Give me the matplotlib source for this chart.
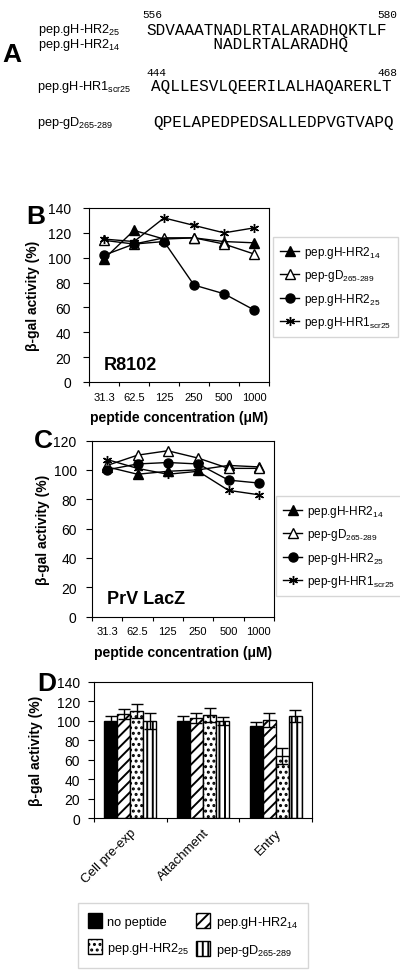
import numpy as np
import matplotlib
matplotlib.use("Agg")
import matplotlib.pyplot as plt

plt.rcParams['font.family'] = ['Liberation Sans', 'DejaVu Sans']
plt.rcParams['mathtext.default'] = 'regular'
plt.rcParams['hatch.linewidth'] = 1.4

# =====================================================
# DATA
# =====================================================

conc = ['31.3', '62.5', '125', '250', '500', '1000']

b_hr2_14 = [99, 122, 115, 116, 113, 112]
b_gd = [114, 111, 116, 116, 111, 103]
b_hr2_25 = [102, 111, 113, 78, 71, 58]
b_hr1scr = [115, 113, 132, 126, 120, 124]

c_hr2_14 = [102, 97, 99, 100, 103, 102]
c_gd = [103, 110, 113, 108, 101, 101]
c_hr2_25 = [100, 104, 105, 104, 93, 91]
c_hr1scr = [107, 101, 97, 99, 86, 83]

stages = ['Cell pre-exp', 'Attachment', 'Entry']
d_none = [100, 100, 95]
d_none_err = [5, 5, 4]
d_hr2_14 = [107, 103, 101]
d_hr2_14_err = [5, 5, 7]
d_hr2_25 = [110, 106, 64]
d_hr2_25_err = [7, 7, 8]
d_gd = [100, 100, 105]
d_gd_err = [8, 4, 6]

W, H = 400, 978
fig = plt.figure(figsize=(W / 100, H / 100), dpi=100)


def px(x, y):
    return x / W, 1 - y / H


# =====================================================
# PANEL A
# =====================================================

fig.text(*px(2, 55), "A", fontsize=19, fontweight='bold', va='center')
lab_fs = 9.2
seq_fs = 11.5
mono = 'Liberation Mono'
fig.text(*px(38, 30), "pep.gH-HR2$_{25}$", fontsize=lab_fs, va='center')
fig.text(*px(38, 45), "pep.gH-HR2$_{14}$", fontsize=lab_fs, va='center')
fig.text(*px(37, 87), "pep.gH-HR1$_{scr25}$", fontsize=lab_fs, va='center')
fig.text(*px(37, 123), "pep-gD$_{265\u2010289}$", fontsize=lab_fs, va='center')

fig.text(*px(146, 30), "SDVAAATNADLRTALARADHQKTLF", fontsize=seq_fs, family=mono, va='center')
fig.text(*px(146, 45), "       NADLRTALARADHQ", fontsize=seq_fs, family=mono, va='center')
fig.text(*px(151, 87), "AQLLESVLQEERILALHAQARERLT", fontsize=seq_fs, family=mono, va='center')
fig.text(*px(153, 123), "QPELAPEDPEDSALLEDPVGTVAPQ", fontsize=seq_fs, family=mono, va='center')
fig.text(*px(142, 15), "556", fontsize=8, family=mono, va='center')
fig.text(*px(397, 15), "580", fontsize=8, family=mono, va='center', ha='right')
fig.text(*px(146, 73), "444", fontsize=8, family=mono, va='center')
fig.text(*px(397, 73), "468", fontsize=8, family=mono, va='center', ha='right')

# =====================================================
# LINE PANELS B AND C
# =====================================================

star = (6, 2, 0)
ms = 6.5


def line_panel(ax, series, labels, ymax, name, leg_xy, ylabel_x, ypad):
    x = np.arange(len(conc))
    styles = [
        dict(marker='^', mfc='black'),
        dict(marker='^', mfc='white'),
        dict(marker='o', mfc='black'),
        dict(marker=star, mfc='black'),
    ]
    handles = []
    for vals, st, lab in zip(series, styles, labels):
        h, = ax.plot(x, vals, color='black', lw=1, mec='black', ms=ms, mew=1,
                     label=lab, **st)
        handles.append(h)
    ax.set_xlim(-0.5, len(conc) - 0.5)
    ax.set_ylim(0, ymax)
    ax.set_yticks(np.arange(0, ymax + 1, 20))
    ax.tick_params(axis='y', labelsize=10, pad=ypad, length=4)
    ax.set_xticks(np.arange(-0.5, len(conc), 1))
    ax.set_xticklabels([])
    ax.set_xticks(x, minor=True)
    ax.set_xticklabels(conc, minor=True, fontsize=8)
    ax.tick_params(axis='x', which='major', length=3)
    ax.tick_params(axis='x', which='minor', length=0, pad=7)
    ax.set_xlabel("peptide concentration (\u03bcM)", fontsize=10, fontweight='bold', labelpad=6)
    ax.set_ylabel("\u03b2-gal activity (%)", fontsize=10, fontweight='bold')
    ax.yaxis.set_label_coords(ylabel_x, 0.5)
    ax.text(0.08, 0.1, name, transform=ax.transAxes, fontsize=13, fontweight='bold', va='center')
    fig.legend(handles=handles, loc='upper left', bbox_to_anchor=px(*leg_xy),
               fontsize=8.5, frameon=True, fancybox=False, edgecolor='#cccccc',
               handlelength=1.6, handletextpad=0.4, labelspacing=0.62,
               borderpad=0.6, borderaxespad=0)


axB = fig.add_axes([89 / W, 1 - 383 / H, 180 / W, 174 / H])
line_panel(axB, [b_hr2_14, b_gd, b_hr2_25, b_hr1scr],
           ["pep.gH-HR2$_{14}$", "pep-gD$_{265\u2010289}$", "pep.gH-HR2$_{25}$", "pep.gH-HR1$_{scr25}$"],
           140, "R8102", (273, 238), -0.27, 9)
fig.text(*px(26, 217), "B", fontsize=19, fontweight='bold', va='center')

axC = fig.add_axes([92 / W, 1 - 617.5 / H, 182 / W, 176 / H])
line_panel(axC, [c_hr2_14, c_gd, c_hr2_25, c_hr1scr],
           ["pep.gH-HR2$_{14}$", "pep-gD$_{265\u2010289}$", "pep-gH-HR2$_{25}$", "pep-gH-HR1$_{scr25}$"],
           120, "PrV LacZ", (276, 497), -0.23, 7)
fig.text(*px(34, 441), "C", fontsize=19, fontweight='bold', va='center')

# =====================================================
# PANEL D BARS
# =====================================================

axD = fig.add_axes([94 / W, 1 - 819.3 / H, 218 / W, 136.3 / H])
xs = np.arange(len(stages))
w = 0.18
bar_sets = [
    (d_none, d_none_err, 'black', '', "no peptide"),
    (d_hr2_14, d_hr2_14_err, 'white', '///', "pep.gH-HR2$_{14}$"),
    (d_hr2_25, d_hr2_25_err, 'white', '...', "pep.gH-HR2$_{25}$"),
    (d_gd, d_gd_err, 'white', '|||', "pep-gD$_{265\u2010289}$"),
]
bars = []
for i, (vals, errs, fc, hatch, lab) in enumerate(bar_sets):
    b = axD.bar(xs + (i - 1.5) * w, vals, w, yerr=errs, color=fc, edgecolor='black',
                hatch=hatch, lw=1, label=lab,
                error_kw=dict(ecolor='black', elinewidth=1, capsize=4, capthick=1))
    bars.append(b)
axD.set_xlim(-0.5, len(stages) - 0.5)
axD.set_ylim(0, 140)
axD.set_yticks(np.arange(0, 141, 20))
axD.tick_params(axis='y', labelsize=10, pad=6, length=4)
axD.set_xticks(np.arange(-0.5, len(stages), 1))
axD.set_xticklabels([])
axD.set_xticks(xs, minor=True)
axD.set_xticklabels(stages, minor=True, fontsize=9.5, rotation=45, ha='right',
                    rotation_mode='anchor')
axD.tick_params(axis='x', which='major', length=3)
axD.tick_params(axis='x', which='minor', length=0, pad=6)
axD.set_ylabel("\u03b2-gal activity (%)", fontsize=10, fontweight='bold')
axD.yaxis.set_label_coords(-0.234, 0.5)
fig.text(*px(37, 684), "D", fontsize=19, fontweight='bold', va='center')

order = [0, 2, 1, 3]
fig.legend([bars[i] for i in order], [bar_sets[i][4] for i in order],
           loc='upper left', bbox_to_anchor=px(78, 904), ncol=2,
           fontsize=9.2, frameon=True, fancybox=False, edgecolor='#cccccc',
           handlelength=1.1, handleheight=1.4, handletextpad=0.4,
           columnspacing=0.5, labelspacing=0.9, borderpad=0.8, borderaxespad=0)

plt.savefig("out.png", dpi=100)
plt.close()
